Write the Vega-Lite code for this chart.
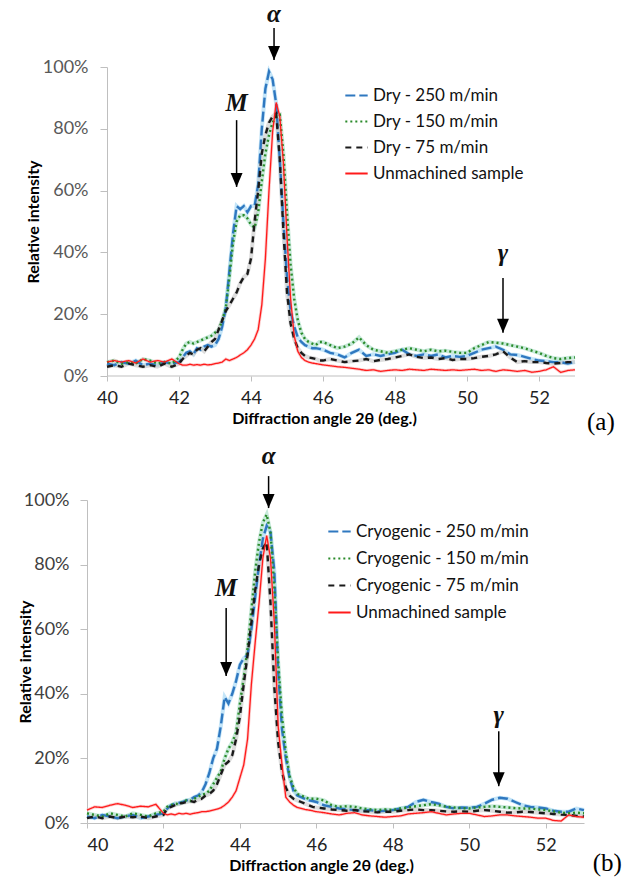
{
  "$schema": "https://vega.github.io/schema/vega-lite/v6.json",
  "background": "white",
  "padding": {"left": 17, "top": 2, "right": 0, "bottom": 0},
  "spacing": 8,
  "columns": 1,
  "resolve": {
    "scale": {"color": "independent", "strokeDash": "independent", "x": "independent", "y": "independent"},
    "legend": {"color": "independent", "strokeDash": "independent"},
    "axis": {"x": "independent", "y": "independent"}
  },
  "config": {
    "view": {"stroke": null},
    "font": "Lato",
    "axis": {"grid": false, "domainColor": "#bfbfbf", "tickColor": "#bfbfbf", "labelFont": "Lato", "labelFontSize": 18, "labelColor": "#404040", "titleFont": "Lato", "titleFontSize": 16, "titleFontWeight": "bold", "titleColor": "#000000"},
    "legend": {"orient": "none", "padding": 0, "symbolType": "stroke", "symbolSize": 500, "symbolStrokeWidth": 2, "labelFont": "Lato", "labelFontSize": 17, "labelColor": "#111111", "labelOffset": 4, "labelLimit": 300}
  },
  "datasets": {
    "a": [
      {"x":40.0,"dry250":0.040,"dry150":0.045,"dry75":0.030,"unm":0.045},
      {"x":40.2,"dry250":0.035,"dry150":0.050,"dry75":0.035,"unm":0.050},
      {"x":40.4,"dry250":0.045,"dry150":0.040,"dry75":0.030,"unm":0.045},
      {"x":40.6,"dry250":0.040,"dry150":0.045,"dry75":0.040,"unm":0.050},
      {"x":40.8,"dry250":0.050,"dry150":0.040,"dry75":0.035,"unm":0.042},
      {"x":41.0,"dry250":0.035,"dry150":0.055,"dry75":0.030,"unm":0.055},
      {"x":41.2,"dry250":0.040,"dry150":0.050,"dry75":0.035,"unm":0.045},
      {"x":41.4,"dry250":0.035,"dry150":0.040,"dry75":0.030,"unm":0.050},
      {"x":41.6,"dry250":0.045,"dry150":0.045,"dry75":0.040,"unm":0.045},
      {"x":41.8,"dry250":0.040,"dry150":0.040,"dry75":0.030,"unm":0.055},
      {"x":42.0,"dry250":0.045,"dry150":0.060,"dry75":0.040,"unm":0.040},
      {"x":42.1,"dry250":0.060,"dry150":0.085,"dry75":0.055,"unm":0.035},
      {"x":42.2,"dry250":0.075,"dry150":0.105,"dry75":0.065,"unm":0.035},
      {"x":42.3,"dry250":0.080,"dry150":0.110,"dry75":0.075,"unm":0.038},
      {"x":42.4,"dry250":0.070,"dry150":0.105,"dry75":0.070,"unm":0.035},
      {"x":42.5,"dry250":0.090,"dry150":0.110,"dry75":0.085,"unm":0.037},
      {"x":42.6,"dry250":0.085,"dry150":0.115,"dry75":0.090,"unm":0.035},
      {"x":42.7,"dry250":0.095,"dry150":0.120,"dry75":0.080,"unm":0.038},
      {"x":42.8,"dry250":0.100,"dry150":0.125,"dry75":0.095,"unm":0.036},
      {"x":42.9,"dry250":0.095,"dry150":0.130,"dry75":0.110,"unm":0.037},
      {"x":43.0,"dry250":0.100,"dry150":0.140,"dry75":0.120,"unm":0.040},
      {"x":43.1,"dry250":0.120,"dry150":0.150,"dry75":0.150,"unm":0.042},
      {"x":43.2,"dry250":0.160,"dry150":0.180,"dry75":0.180,"unm":0.045},
      {"x":43.3,"dry250":0.220,"dry150":0.220,"dry75":0.210,"unm":0.055},
      {"x":43.4,"dry250":0.340,"dry150":0.320,"dry75":0.230,"unm":0.050},
      {"x":43.5,"dry250":0.460,"dry150":0.430,"dry75":0.250,"unm":0.055},
      {"x":43.6,"dry250":0.550,"dry150":0.500,"dry75":0.270,"unm":0.060},
      {"x":43.7,"dry250":0.540,"dry150":0.520,"dry75":0.300,"unm":0.068},
      {"x":43.8,"dry250":0.550,"dry150":0.520,"dry75":0.320,"unm":0.075},
      {"x":43.9,"dry250":0.530,"dry150":0.510,"dry75":0.330,"unm":0.085},
      {"x":44.0,"dry250":0.550,"dry150":0.490,"dry75":0.380,"unm":0.100},
      {"x":44.1,"dry250":0.550,"dry150":0.480,"dry75":0.500,"unm":0.120},
      {"x":44.2,"dry250":0.620,"dry150":0.530,"dry75":0.600,"unm":0.150},
      {"x":44.3,"dry250":0.800,"dry150":0.630,"dry75":0.720,"unm":0.230},
      {"x":44.4,"dry250":0.930,"dry150":0.720,"dry75":0.780,"unm":0.380},
      {"x":44.5,"dry250":0.985,"dry150":0.780,"dry75":0.820,"unm":0.600},
      {"x":44.6,"dry250":0.960,"dry150":0.820,"dry75":0.840,"unm":0.790},
      {"x":44.7,"dry250":0.880,"dry150":0.840,"dry75":0.850,"unm":0.885},
      {"x":44.8,"dry250":0.700,"dry150":0.845,"dry75":0.700,"unm":0.840},
      {"x":44.9,"dry250":0.500,"dry150":0.720,"dry75":0.470,"unm":0.690},
      {"x":45.0,"dry250":0.320,"dry150":0.530,"dry75":0.270,"unm":0.450},
      {"x":45.1,"dry250":0.210,"dry150":0.360,"dry75":0.170,"unm":0.250},
      {"x":45.2,"dry250":0.160,"dry150":0.250,"dry75":0.120,"unm":0.130},
      {"x":45.3,"dry250":0.125,"dry150":0.180,"dry75":0.090,"unm":0.080},
      {"x":45.4,"dry250":0.110,"dry150":0.140,"dry75":0.075,"unm":0.060},
      {"x":45.5,"dry250":0.100,"dry150":0.120,"dry75":0.065,"unm":0.050},
      {"x":45.6,"dry250":0.095,"dry150":0.110,"dry75":0.060,"unm":0.045},
      {"x":45.7,"dry250":0.090,"dry150":0.105,"dry75":0.058,"unm":0.042},
      {"x":45.8,"dry250":0.090,"dry150":0.100,"dry75":0.055,"unm":0.040},
      {"x":45.9,"dry250":0.088,"dry150":0.110,"dry75":0.050,"unm":0.038},
      {"x":46.0,"dry250":0.085,"dry150":0.110,"dry75":0.050,"unm":0.036},
      {"x":46.2,"dry250":0.075,"dry150":0.100,"dry75":0.055,"unm":0.033},
      {"x":46.4,"dry250":0.070,"dry150":0.090,"dry75":0.050,"unm":0.030},
      {"x":46.6,"dry250":0.060,"dry150":0.095,"dry75":0.045,"unm":0.028},
      {"x":46.8,"dry250":0.075,"dry150":0.105,"dry75":0.048,"unm":0.025},
      {"x":47.0,"dry250":0.085,"dry150":0.125,"dry75":0.050,"unm":0.022},
      {"x":47.2,"dry250":0.065,"dry150":0.100,"dry75":0.055,"unm":0.018},
      {"x":47.4,"dry250":0.070,"dry150":0.085,"dry75":0.048,"unm":0.020},
      {"x":47.6,"dry250":0.065,"dry150":0.080,"dry75":0.052,"unm":0.015},
      {"x":47.8,"dry250":0.070,"dry150":0.075,"dry75":0.055,"unm":0.018},
      {"x":48.0,"dry250":0.075,"dry150":0.080,"dry75":0.060,"unm":0.020},
      {"x":48.2,"dry250":0.085,"dry150":0.085,"dry75":0.065,"unm":0.018},
      {"x":48.4,"dry250":0.070,"dry150":0.090,"dry75":0.070,"unm":0.022},
      {"x":48.6,"dry250":0.065,"dry150":0.085,"dry75":0.062,"unm":0.020},
      {"x":48.8,"dry250":0.070,"dry150":0.080,"dry75":0.058,"unm":0.018},
      {"x":49.0,"dry250":0.065,"dry150":0.085,"dry75":0.060,"unm":0.022},
      {"x":49.2,"dry250":0.070,"dry150":0.080,"dry75":0.055,"unm":0.020},
      {"x":49.4,"dry250":0.060,"dry150":0.082,"dry75":0.058,"unm":0.018},
      {"x":49.6,"dry250":0.065,"dry150":0.078,"dry75":0.052,"unm":0.020},
      {"x":49.8,"dry250":0.062,"dry150":0.075,"dry75":0.055,"unm":0.018},
      {"x":50.0,"dry250":0.065,"dry150":0.075,"dry75":0.055,"unm":0.020},
      {"x":50.2,"dry250":0.075,"dry150":0.090,"dry75":0.058,"unm":0.022},
      {"x":50.4,"dry250":0.085,"dry150":0.100,"dry75":0.062,"unm":0.018},
      {"x":50.6,"dry250":0.090,"dry150":0.110,"dry75":0.065,"unm":0.020},
      {"x":50.8,"dry250":0.095,"dry150":0.108,"dry75":0.070,"unm":0.015},
      {"x":51.0,"dry250":0.085,"dry150":0.105,"dry75":0.080,"unm":0.020},
      {"x":51.2,"dry250":0.070,"dry150":0.100,"dry75":0.060,"unm":0.018},
      {"x":51.4,"dry250":0.068,"dry150":0.095,"dry75":0.045,"unm":0.015},
      {"x":51.6,"dry250":0.062,"dry150":0.090,"dry75":0.048,"unm":0.018},
      {"x":51.8,"dry250":0.055,"dry150":0.082,"dry75":0.045,"unm":0.012},
      {"x":52.0,"dry250":0.050,"dry150":0.075,"dry75":0.045,"unm":0.015},
      {"x":52.2,"dry250":0.048,"dry150":0.065,"dry75":0.042,"unm":0.020},
      {"x":52.4,"dry250":0.045,"dry150":0.058,"dry75":0.040,"unm":0.030},
      {"x":52.6,"dry250":0.045,"dry150":0.055,"dry75":0.042,"unm":0.012},
      {"x":52.8,"dry250":0.040,"dry150":0.058,"dry75":0.045,"unm":0.018},
      {"x":53.0,"dry250":0.045,"dry150":0.060,"dry75":0.045,"unm":0.020}
    ],
    "b": [
      {"x":40.0,"cryo250":0.020,"cryo150":0.030,"cryo75":0.015,"unm":0.040},
      {"x":40.2,"cryo250":0.015,"cryo150":0.025,"cryo75":0.020,"unm":0.050},
      {"x":40.4,"cryo250":0.025,"cryo150":0.020,"cryo75":0.015,"unm":0.048},
      {"x":40.6,"cryo250":0.020,"cryo150":0.030,"cryo75":0.020,"unm":0.055},
      {"x":40.8,"cryo250":0.015,"cryo150":0.025,"cryo75":0.015,"unm":0.060},
      {"x":41.0,"cryo250":0.020,"cryo150":0.020,"cryo75":0.020,"unm":0.055},
      {"x":41.2,"cryo250":0.025,"cryo150":0.030,"cryo75":0.018,"unm":0.048},
      {"x":41.4,"cryo250":0.015,"cryo150":0.025,"cryo75":0.020,"unm":0.052},
      {"x":41.6,"cryo250":0.020,"cryo150":0.020,"cryo75":0.015,"unm":0.050},
      {"x":41.8,"cryo250":0.025,"cryo150":0.030,"cryo75":0.020,"unm":0.058},
      {"x":42.0,"cryo250":0.030,"cryo150":0.035,"cryo75":0.025,"unm":0.030},
      {"x":42.1,"cryo250":0.045,"cryo150":0.050,"cryo75":0.045,"unm":0.025},
      {"x":42.2,"cryo250":0.055,"cryo150":0.055,"cryo75":0.050,"unm":0.028},
      {"x":42.3,"cryo250":0.060,"cryo150":0.060,"cryo75":0.055,"unm":0.025},
      {"x":42.4,"cryo250":0.062,"cryo150":0.058,"cryo75":0.060,"unm":0.030},
      {"x":42.5,"cryo250":0.065,"cryo150":0.065,"cryo75":0.062,"unm":0.028},
      {"x":42.6,"cryo250":0.070,"cryo150":0.070,"cryo75":0.065,"unm":0.030},
      {"x":42.7,"cryo250":0.072,"cryo150":0.068,"cryo75":0.068,"unm":0.027},
      {"x":42.8,"cryo250":0.080,"cryo150":0.075,"cryo75":0.065,"unm":0.030},
      {"x":42.9,"cryo250":0.085,"cryo150":0.080,"cryo75":0.072,"unm":0.032},
      {"x":43.0,"cryo250":0.095,"cryo150":0.088,"cryo75":0.075,"unm":0.035},
      {"x":43.1,"cryo250":0.120,"cryo150":0.090,"cryo75":0.085,"unm":0.035},
      {"x":43.2,"cryo250":0.155,"cryo150":0.100,"cryo75":0.090,"unm":0.037},
      {"x":43.3,"cryo250":0.200,"cryo150":0.120,"cryo75":0.100,"unm":0.040},
      {"x":43.4,"cryo250":0.230,"cryo150":0.140,"cryo75":0.120,"unm":0.043},
      {"x":43.5,"cryo250":0.300,"cryo150":0.160,"cryo75":0.150,"unm":0.047},
      {"x":43.6,"cryo250":0.390,"cryo150":0.200,"cryo75":0.180,"unm":0.055},
      {"x":43.7,"cryo250":0.370,"cryo150":0.230,"cryo75":0.190,"unm":0.065},
      {"x":43.8,"cryo250":0.400,"cryo150":0.250,"cryo75":0.210,"unm":0.080},
      {"x":43.9,"cryo250":0.440,"cryo150":0.280,"cryo75":0.260,"unm":0.100},
      {"x":44.0,"cryo250":0.490,"cryo150":0.370,"cryo75":0.330,"unm":0.140},
      {"x":44.1,"cryo250":0.510,"cryo150":0.450,"cryo75":0.430,"unm":0.180},
      {"x":44.2,"cryo250":0.520,"cryo150":0.540,"cryo75":0.520,"unm":0.260},
      {"x":44.3,"cryo250":0.600,"cryo150":0.660,"cryo75":0.620,"unm":0.430},
      {"x":44.4,"cryo250":0.700,"cryo150":0.780,"cryo75":0.720,"unm":0.560},
      {"x":44.5,"cryo250":0.800,"cryo150":0.870,"cryo75":0.800,"unm":0.680},
      {"x":44.6,"cryo250":0.880,"cryo150":0.930,"cryo75":0.850,"unm":0.820},
      {"x":44.7,"cryo250":0.920,"cryo150":0.955,"cryo75":0.870,"unm":0.890},
      {"x":44.8,"cryo250":0.900,"cryo150":0.900,"cryo75":0.680,"unm":0.820},
      {"x":44.9,"cryo250":0.780,"cryo150":0.730,"cryo75":0.420,"unm":0.620},
      {"x":45.0,"cryo250":0.470,"cryo150":0.500,"cryo75":0.250,"unm":0.300},
      {"x":45.1,"cryo250":0.290,"cryo150":0.330,"cryo75":0.160,"unm":0.180},
      {"x":45.2,"cryo250":0.200,"cryo150":0.220,"cryo75":0.110,"unm":0.080},
      {"x":45.3,"cryo250":0.140,"cryo150":0.145,"cryo75":0.085,"unm":0.065},
      {"x":45.4,"cryo250":0.100,"cryo150":0.110,"cryo75":0.075,"unm":0.055},
      {"x":45.5,"cryo250":0.085,"cryo150":0.090,"cryo75":0.070,"unm":0.048},
      {"x":45.6,"cryo250":0.080,"cryo150":0.085,"cryo75":0.065,"unm":0.045},
      {"x":45.7,"cryo250":0.075,"cryo150":0.080,"cryo75":0.060,"unm":0.042},
      {"x":45.8,"cryo250":0.070,"cryo150":0.075,"cryo75":0.055,"unm":0.040},
      {"x":45.9,"cryo250":0.068,"cryo150":0.075,"cryo75":0.050,"unm":0.038},
      {"x":46.0,"cryo250":0.065,"cryo150":0.075,"cryo75":0.048,"unm":0.035},
      {"x":46.2,"cryo250":0.055,"cryo150":0.070,"cryo75":0.045,"unm":0.032},
      {"x":46.4,"cryo250":0.050,"cryo150":0.055,"cryo75":0.042,"unm":0.028},
      {"x":46.6,"cryo250":0.045,"cryo150":0.050,"cryo75":0.040,"unm":0.025},
      {"x":46.8,"cryo250":0.042,"cryo150":0.052,"cryo75":0.038,"unm":0.030},
      {"x":47.0,"cryo250":0.040,"cryo150":0.050,"cryo75":0.040,"unm":0.032},
      {"x":47.2,"cryo250":0.038,"cryo150":0.045,"cryo75":0.036,"unm":0.025},
      {"x":47.4,"cryo250":0.040,"cryo150":0.042,"cryo75":0.035,"unm":0.022},
      {"x":47.6,"cryo250":0.036,"cryo150":0.040,"cryo75":0.033,"unm":0.020},
      {"x":47.8,"cryo250":0.038,"cryo150":0.042,"cryo75":0.035,"unm":0.018},
      {"x":48.0,"cryo250":0.040,"cryo150":0.040,"cryo75":0.035,"unm":0.020},
      {"x":48.2,"cryo250":0.045,"cryo150":0.045,"cryo75":0.038,"unm":0.022},
      {"x":48.4,"cryo250":0.050,"cryo150":0.048,"cryo75":0.040,"unm":0.028},
      {"x":48.6,"cryo250":0.065,"cryo150":0.052,"cryo75":0.042,"unm":0.030},
      {"x":48.8,"cryo250":0.072,"cryo150":0.055,"cryo75":0.040,"unm":0.032},
      {"x":49.0,"cryo250":0.065,"cryo150":0.058,"cryo75":0.040,"unm":0.035},
      {"x":49.2,"cryo250":0.060,"cryo150":0.055,"cryo75":0.038,"unm":0.030},
      {"x":49.4,"cryo250":0.050,"cryo150":0.050,"cryo75":0.036,"unm":0.025},
      {"x":49.6,"cryo250":0.045,"cryo150":0.048,"cryo75":0.035,"unm":0.028},
      {"x":49.8,"cryo250":0.048,"cryo150":0.046,"cryo75":0.036,"unm":0.030},
      {"x":50.0,"cryo250":0.047,"cryo150":0.045,"cryo75":0.035,"unm":0.030},
      {"x":50.2,"cryo250":0.050,"cryo150":0.048,"cryo75":0.038,"unm":0.025},
      {"x":50.4,"cryo250":0.060,"cryo150":0.050,"cryo75":0.040,"unm":0.020},
      {"x":50.6,"cryo250":0.072,"cryo150":0.052,"cryo75":0.038,"unm":0.022},
      {"x":50.8,"cryo250":0.078,"cryo150":0.050,"cryo75":0.035,"unm":0.025},
      {"x":51.0,"cryo250":0.075,"cryo150":0.048,"cryo75":0.032,"unm":0.025},
      {"x":51.2,"cryo250":0.065,"cryo150":0.046,"cryo75":0.033,"unm":0.022},
      {"x":51.4,"cryo250":0.055,"cryo150":0.045,"cryo75":0.035,"unm":0.020},
      {"x":51.6,"cryo250":0.050,"cryo150":0.045,"cryo75":0.034,"unm":0.018},
      {"x":51.8,"cryo250":0.048,"cryo150":0.042,"cryo75":0.032,"unm":0.015},
      {"x":52.0,"cryo250":0.045,"cryo150":0.040,"cryo75":0.030,"unm":0.015},
      {"x":52.2,"cryo250":0.038,"cryo150":0.036,"cryo75":0.028,"unm":0.008},
      {"x":52.4,"cryo250":0.035,"cryo150":0.032,"cryo75":0.026,"unm":0.006},
      {"x":52.6,"cryo250":0.035,"cryo150":0.030,"cryo75":0.025,"unm":0.025},
      {"x":52.8,"cryo250":0.045,"cryo150":0.032,"cryo75":0.022,"unm":0.020},
      {"x":53.0,"cryo250":0.040,"cryo150":0.030,"cryo75":0.020,"unm":0.018}
    ],
    "annA": [
      {"label":"α","x":44.64,"ylab":1.171,"ytop":1.126,"ytip":1.023},
      {"label":"M","x":43.6,"ylab":0.883,"ytop":0.828,"ytip":0.612},
      {"label":"γ","x":51.0,"ylab":0.398,"ytop":0.317,"ytip":0.14}
    ],
    "annB": [
      {"label":"α","x":44.75,"ylab":1.136,"ytop":1.074,"ytip":0.975},
      {"label":"M","x":43.64,"ylab":0.728,"ytop":0.666,"ytip":0.455},
      {"label":"γ","x":50.77,"ylab":0.335,"ytop":0.284,"ytip":0.114}
    ],
    "tagA": [{"tag":"(a)","x":53.72,"y":-0.149}],
    "tagB": [{"tag":"(b)","x":53.61,"y":-0.124}]
  },
  "concat": [
    {
      "width": 488,
      "height": 309,
      "encoding": {
        "x": {"type": "quantitative", "title": "Diffraction angle 2θ (deg.)", "scale": {"domain": [39.4444, 53], "nice": false, "zero": false},
          "axis": {"values": [40, 42, 44, 46, 48, 50, 52], "domain": false, "tickSize": 5, "labelPadding": 8, "titlePadding": 3, "labelColor": "#222222", "titleX": 237}},
        "y": {"type": "quantitative", "title": "Relative intensity", "scale": {"domain": [0, 1], "nice": false},
          "axis": {"values": [0, 0.2, 0.4, 0.6, 0.8, 1], "format": ".0%", "offset": -20, "tickSize": 7, "labelPadding": 12, "titleX": -73.5, "titleBaseline": "middle", "labelColor": "#595959"}}
      },
      "layer": [
        {
          "data": {"values": [{}]},
          "mark": {"type": "rule", "color": "#bfbfbf", "strokeWidth": 1},
          "encoding": {"x": {"datum": 40}, "x2": {"datum": 53}, "y": {"datum": 0}}
        },
        {"data": {"name": "a"}, "mark": {"type": "line", "strokeWidth": 4, "color": "#9cd4f4", "opacity": 0.6}, "encoding": {"x": {"field": "x"}, "y": {"field": "dry250"}}},
        {"data": {"name": "a"}, "mark": {"type": "line", "strokeWidth": 4, "color": "#a2dcc2", "opacity": 0.6}, "encoding": {"x": {"field": "x"}, "y": {"field": "dry150"}}},
        {"data": {"name": "a"}, "mark": {"type": "line", "strokeWidth": 4, "color": "#c6c6c6", "opacity": 0.6}, "encoding": {"x": {"field": "x"}, "y": {"field": "dry75"}}},
        {"data": {"name": "a"}, "mark": {"type": "line", "strokeWidth": 3, "color": "#f8aaaa", "opacity": 0.6}, "encoding": {"x": {"field": "x"}, "y": {"field": "unm"}}},
        {
          "data": {"name": "a"},
          "transform": [{"fold": ["dry250", "dry150", "dry75", "unm"], "as": ["series", "intensity"]}],
          "mark": {"type": "line"},
          "encoding": {
            "x": {"field": "x"},
            "y": {"field": "intensity"},
            "color": {"field": "series", "type": "nominal", "title": null,
              "scale": {"domain": ["dry250", "dry150", "dry75", "unm"], "range": ["#2f78c0", "#2a8a2a", "#1a1a1a", "#ff1a1a"]},
              "legend": {"legendX": 257, "legendY": 16, "rowPadding": 5,
                "labelExpr": "datum.label == 'dry250' ? 'Dry - 250 m/min' : datum.label == 'dry150' ? 'Dry - 150 m/min' : datum.label == 'dry75' ? 'Dry - 75 m/min' : 'Unmachined sample'"}},
            "strokeDash": {"field": "series", "type": "nominal", "title": null,
              "scale": {"domain": ["dry250", "dry150", "dry75", "unm"], "range": [[10, 4], [2, 3], [6, 5], [1, 0]]},
              "legend": {"legendX": 257, "legendY": 16, "rowPadding": 5,
                "labelExpr": "datum.label == 'dry250' ? 'Dry - 250 m/min' : datum.label == 'dry150' ? 'Dry - 150 m/min' : datum.label == 'dry75' ? 'Dry - 75 m/min' : 'Unmachined sample'"}},
            "strokeWidth": {"condition": {"test": "datum.series === 'unm'", "value": 1.3}, "value": 2.4}
          }
        },
        {
          "data": {"name": "annA"},
          "mark": {"type": "rule", "color": "#000000", "strokeWidth": 1.5},
          "encoding": {"x": {"field": "x"}, "y": {"field": "ytop"}, "y2": {"field": "ytip"}}
        },
        {
          "data": {"name": "annA"},
          "mark": {"type": "point", "shape": "M-0.85,-2L0.85,-2L0,0Z", "size": 196, "filled": true, "color": "#000000", "opacity": 1},
          "encoding": {"x": {"field": "x"}, "y": {"field": "ytip"}}
        },
        {
          "data": {"name": "annA"},
          "mark": {"type": "text", "font": "Liberation Serif", "fontStyle": "italic", "fontWeight": "bold", "fontSize": 25, "baseline": "middle", "align": "center", "color": "#111111"},
          "encoding": {"x": {"field": "x"}, "y": {"field": "ylab"}, "text": {"field": "label"}}
        },
        {
          "data": {"name": "tagA"},
          "mark": {"type": "text", "font": "Liberation Serif", "fontSize": 25, "baseline": "middle", "align": "center", "color": "#000000"},
          "encoding": {"x": {"field": "x"}, "y": {"field": "y"}, "text": {"field": "tag"}}
        }
      ]
    },
    {
      "width": 497,
      "height": 323,
      "encoding": {
        "x": {"type": "quantitative", "title": "Diffraction angle 2θ (deg.)", "scale": {"domain": [40, 53], "nice": false, "zero": false},
          "axis": {"values": [40, 42, 44, 46, 48, 50, 52], "tickSize": 5, "labelPadding": 8, "titlePadding": 3, "labelColor": "#222222", "titleX": 234}},
        "y": {"type": "quantitative", "title": "Relative intensity", "scale": {"domain": [0, 1], "nice": false},
          "axis": {"values": [0, 0.2, 0.4, 0.6, 0.8, 1], "format": ".0%", "tickSize": 7, "labelPadding": 11, "titleX": -62, "titleBaseline": "middle", "labelColor": "#404040"}}
      },
      "layer": [
        {"data": {"name": "b"}, "mark": {"type": "line", "strokeWidth": 4, "color": "#9cd4f4", "opacity": 0.6}, "encoding": {"x": {"field": "x"}, "y": {"field": "cryo250"}}},
        {"data": {"name": "b"}, "mark": {"type": "line", "strokeWidth": 4, "color": "#a2dcc2", "opacity": 0.6}, "encoding": {"x": {"field": "x"}, "y": {"field": "cryo150"}}},
        {"data": {"name": "b"}, "mark": {"type": "line", "strokeWidth": 4, "color": "#c6c6c6", "opacity": 0.6}, "encoding": {"x": {"field": "x"}, "y": {"field": "cryo75"}}},
        {"data": {"name": "b"}, "mark": {"type": "line", "strokeWidth": 3, "color": "#f8aaaa", "opacity": 0.6}, "encoding": {"x": {"field": "x"}, "y": {"field": "unm"}}},
        {
          "data": {"name": "b"},
          "transform": [{"fold": ["cryo250", "cryo150", "cryo75", "unm"], "as": ["series", "intensity"]}],
          "mark": {"type": "line"},
          "encoding": {
            "x": {"field": "x"},
            "y": {"field": "intensity"},
            "color": {"field": "series", "type": "nominal", "title": null,
              "scale": {"domain": ["cryo250", "cryo150", "cryo75", "unm"], "range": ["#2f78c0", "#2a8a2a", "#1a1a1a", "#ff1a1a"]},
              "legend": {"legendX": 240, "legendY": 19, "rowPadding": 6,
                "labelExpr": "datum.label == 'cryo250' ? 'Cryogenic - 250 m/min' : datum.label == 'cryo150' ? 'Cryogenic - 150 m/min' : datum.label == 'cryo75' ? 'Cryogenic - 75 m/min' : 'Unmachined sample'"}},
            "strokeDash": {"field": "series", "type": "nominal", "title": null,
              "scale": {"domain": ["cryo250", "cryo150", "cryo75", "unm"], "range": [[10, 4], [2, 3], [6, 5], [1, 0]]},
              "legend": {"legendX": 240, "legendY": 19, "rowPadding": 6,
                "labelExpr": "datum.label == 'cryo250' ? 'Cryogenic - 250 m/min' : datum.label == 'cryo150' ? 'Cryogenic - 150 m/min' : datum.label == 'cryo75' ? 'Cryogenic - 75 m/min' : 'Unmachined sample'"}},
            "strokeWidth": {"condition": {"test": "datum.series === 'unm'", "value": 1.3}, "value": 2.4}
          }
        },
        {
          "data": {"name": "annB"},
          "mark": {"type": "rule", "color": "#000000", "strokeWidth": 1.5},
          "encoding": {"x": {"field": "x"}, "y": {"field": "ytop"}, "y2": {"field": "ytip"}}
        },
        {
          "data": {"name": "annB"},
          "mark": {"type": "point", "shape": "M-0.85,-2L0.85,-2L0,0Z", "size": 196, "filled": true, "color": "#000000", "opacity": 1},
          "encoding": {"x": {"field": "x"}, "y": {"field": "ytip"}}
        },
        {
          "data": {"name": "annB"},
          "mark": {"type": "text", "font": "Liberation Serif", "fontStyle": "italic", "fontWeight": "bold", "fontSize": 25, "baseline": "middle", "align": "center", "color": "#111111"},
          "encoding": {"x": {"field": "x"}, "y": {"field": "ylab"}, "text": {"field": "label"}}
        },
        {
          "data": {"name": "tagB"},
          "mark": {"type": "text", "font": "Liberation Serif", "fontSize": 25, "baseline": "middle", "align": "center", "color": "#000000"},
          "encoding": {"x": {"field": "x"}, "y": {"field": "y"}, "text": {"field": "tag"}}
        }
      ]
    }
  ]
}
